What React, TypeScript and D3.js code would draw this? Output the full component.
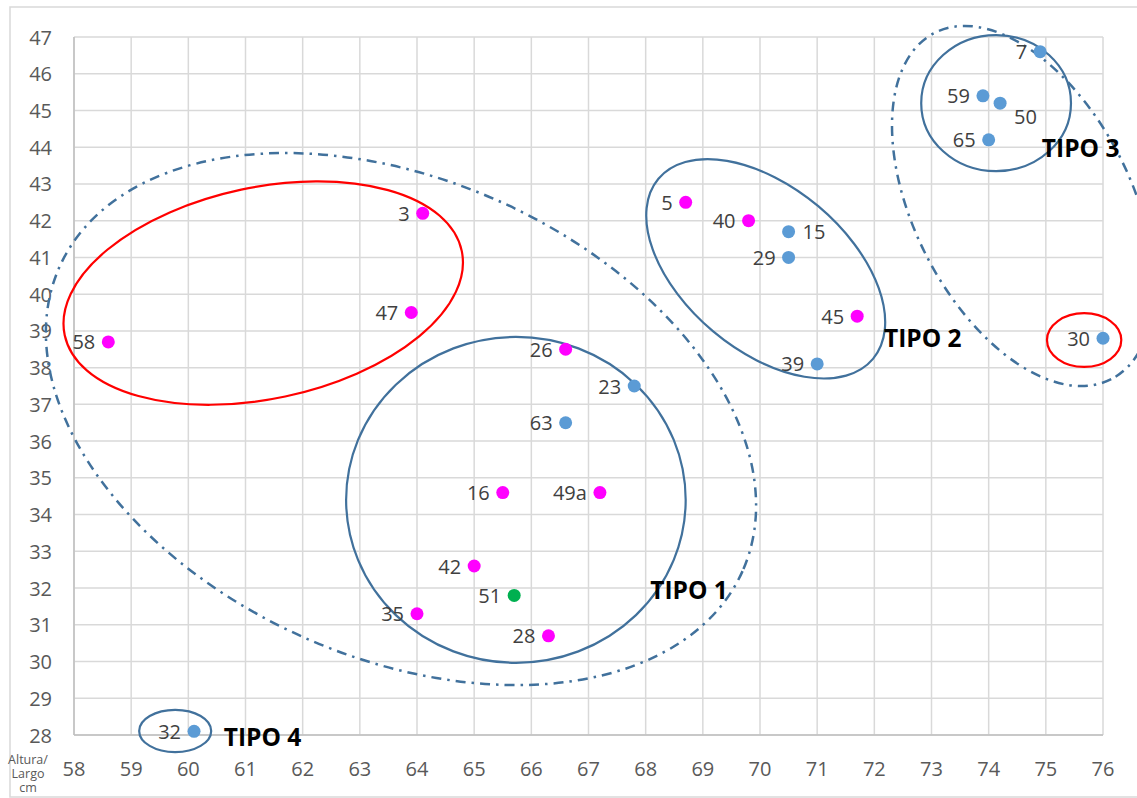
import React from "react";
import * as d3 from "d3";

const xTicks = [58, 59, 60, 61, 62, 63, 64, 65, 66, 67, 68, 69, 70, 71, 72, 73, 74, 75, 76];
const yTicks = [28, 29, 30, 31, 32, 33, 34, 35, 36, 37, 38, 39, 40, 41, 42, 43, 44, 45, 46, 47];

const pointLabels = ["7", "59", "50", "65", "30", "5", "40", "15", "29", "45", "39", "3", "47", "58", "26", "23", "63", "16", "49a", "42", "51", "35", "28", "32"];
const pointX = [74.9, 73.9, 74.2, 74.0, 76.0, 68.7, 69.8, 70.5, 70.5, 71.7, 71.0, 64.1, 63.9, 58.6, 66.6, 67.8, 66.6, 65.5, 67.2, 65.0, 65.7, 64.0, 66.3, 60.1];
const pointY = [46.6, 45.4, 45.2, 44.2, 38.8, 42.5, 42.0, 41.7, 41.0, 39.4, 38.1, 42.2, 39.5, 38.7, 38.5, 37.5, 36.5, 34.6, 34.6, 32.6, 31.8, 31.3, 30.7, 28.1];
const pointGroup = ["b", "b", "b", "b", "b", "m", "m", "b", "b", "m", "b", "m", "m", "m", "m", "b", "b", "m", "m", "m", "g", "m", "m", "b"];
const labelSide = ["l", "l", "br", "l", "l", "l", "l", "r", "l", "l", "l", "l", "l", "l", "l", "l", "l", "l", "l", "l", "l", "l", "l", "l"];

const axisTitleLines = ["Altura/", "Largo", "cm"];

// ellipse annotations: center (data), semi-axes in x-units, rotation deg, style
const ellCx = [65.73, 70.10, 74.13, 74.60, 63.72, 61.31, 75.67, 59.77];
const ellCy = [34.40, 40.69, 45.20, 42.40, 36.60, 40.03, 38.75, 28.11];
const ellA = [2.97, 2.45, 1.31, 3.40, 6.54, 3.55, 0.65, 0.63];
const ellB = [2.85, 1.43, 1.19, 1.90, 4.18, 1.85, 0.47, 0.37];
const ellRot = [0, 40, 0, 63, 24, -12, 0, 0];
const ellKind = ["solid", "solid", "solid", "dashdot", "dashdot", "red", "red", "solid"];

const tipoLabels = ["TIPO 1", "TIPO 2", "TIPO 3", "TIPO 4"];
const tipoX = [68.08, 72.17, 74.93, 60.62];
const tipoY = [31.95, 38.81, 43.98, 27.97];

const W = 1137;
const H = 798;

export default function App() {
  const x = d3.scaleLinear().domain([58, 76]).range([74, 1103]);
  const y = d3.scaleLinear().domain([28, 47]).range([735, 37]);
  const unit = x(59) - x(58);
  const colors: Record<string, string> = { b: "#5B9BD5", m: "#FF00FF", g: "#00B050" };
  const font = "'Open Sans', 'DejaVu Sans', sans-serif";

  return (
    <svg width={W} height={H} style={{ position: "absolute", left: 0, top: 0, background: "#fff" }}>
      <rect x={10} y={7} width={1140} height={790} fill="#fff" stroke="#D9D9D9" strokeWidth={1.5} />
      {xTicks.map((t) => (
        <line key={"gx" + t} x1={x(t)} x2={x(t)} y1={y(47)} y2={y(28)} stroke="#D9D9D9" strokeWidth={1.5} />
      ))}
      {yTicks.map((t) => (
        <line key={"gy" + t} x1={x(58)} x2={x(76)} y1={y(t)} y2={y(t)} stroke="#D9D9D9" strokeWidth={1.5} />
      ))}
      <line x1={x(58)} x2={x(58)} y1={y(47)} y2={y(28)} stroke="#BFBFBF" strokeWidth={1.5} />
      <line x1={x(58)} x2={x(76)} y1={y(28)} y2={y(28)} stroke="#BFBFBF" strokeWidth={1.5} />
      {yTicks.map((t) => (
        <text key={"ty" + t} x={52} y={y(t)} textAnchor="end" dominantBaseline="central" fontSize={20} fill="#595959" fontFamily={font}>
          {t}
        </text>
      ))}
      {xTicks.map((t) => (
        <text key={"tx" + t} x={x(t)} y={768} textAnchor="middle" dominantBaseline="central" fontSize={20} fill="#595959" fontFamily={font}>
          {t}
        </text>
      ))}
      <text x={28} y={764} textAnchor="middle" fontSize={12.5} fill="#595959" fontFamily={font}>
        {axisTitleLines.map((l, i) => (
          <tspan key={l} x={28} dy={i === 0 ? 0 : 14}>
            {l}
          </tspan>
        ))}
      </text>

      {ellCx.map((cx, i) => {
        const k = ellKind[i];
        const stroke = k === "red" ? "#FF0000" : "#41719C";
        return (
          <ellipse
            key={"e" + i}
            cx={0}
            cy={0}
            rx={ellA[i] * unit}
            ry={ellB[i] * unit}
            transform={`translate(${x(cx)},${y(ellCy[i])}) rotate(${ellRot[i]})`}
            fill="none"
            stroke={stroke}
            strokeWidth={k === "dashdot" ? 2.5 : 2.2}
            strokeDasharray={k === "dashdot" ? "10,6,2.5,6" : undefined}
          />
        );
      })}

      {pointX.map((px, i) => (
        <circle key={"p" + i} cx={x(px)} cy={y(pointY[i])} r={6.5} fill={colors[pointGroup[i]]} />
      ))}
      {pointX.map((px, i) => {
        const side = labelSide[i];
        let tx = x(px) - 13;
        let ty = y(pointY[i]);
        let anchor = "end";
        if (side === "r") {
          tx = x(px) + 14;
          anchor = "start";
        } else if (side === "br") {
          tx = x(px) + 14;
          ty = ty + 13;
          anchor = "start";
        }
        return (
          <text key={"l" + i} x={tx} y={ty} textAnchor={anchor} dominantBaseline="central" fontSize={20} fill="#404040" fontFamily={font}>
            {pointLabels[i]}
          </text>
        );
      })}
      {tipoLabels.map((t, i) => (
        <text key={"t" + i} x={x(tipoX[i])} y={y(tipoY[i])} dominantBaseline="central" fontSize={24.5} fontWeight="bold" fill="#000" fontFamily={font}>
          {t}
        </text>
      ))}
    </svg>
  );
}
